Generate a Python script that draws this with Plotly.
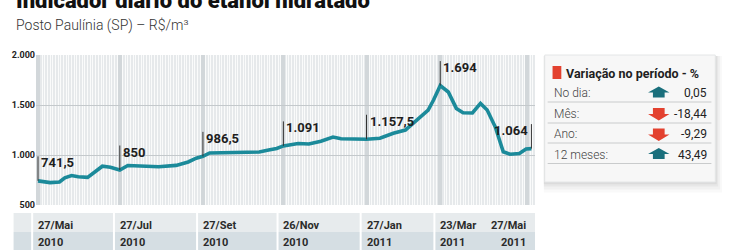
import plotly.graph_objects as go
import pandas as pd

# ---------------- data ----------------
dates = [
    "2010-05-27", "2010-05-31", "2010-06-05", "2010-06-12", "2010-06-16", "2010-06-21",
    "2010-06-26", "2010-07-03", "2010-07-08", "2010-07-14", "2010-07-20", "2010-07-27",
    "2010-08-02", "2010-08-13", "2010-08-25", "2010-09-07", "2010-09-16", "2010-09-22",
    "2010-09-27", "2010-10-02", "2010-10-13", "2010-10-25", "2010-11-08", "2010-11-15",
    "2010-11-21", "2010-11-26", "2010-12-01", "2010-12-07", "2010-12-15", "2010-12-24",
    "2011-01-02", "2011-01-08", "2011-01-18", "2011-01-27", "2011-02-06", "2011-02-16",
    "2011-02-25", "2011-03-04", "2011-03-09", "2011-03-14", "2011-03-18", "2011-03-21",
    "2011-03-23", "2011-03-29", "2011-04-04", "2011-04-09", "2011-04-16", "2011-04-22",
    "2011-04-27", "2011-05-03", "2011-05-06", "2011-05-09", "2011-05-14", "2011-05-21",
    "2011-05-26", "2011-05-30",
]
prices = [
    741.5, 733, 724, 730, 772, 795,
    782, 776, 822, 888, 878, 850,
    895, 886, 882, 896, 930, 968,
    986.5, 1020, 1025, 1028, 1030, 1050,
    1065, 1091, 1098, 1115, 1110, 1138,
    1180, 1163, 1160, 1157.5, 1168, 1218,
    1250, 1332, 1400, 1450, 1550, 1648,
    1694, 1630, 1466, 1422, 1420, 1516,
    1450, 1282, 1150, 1032, 1008, 1015,
    1060, 1064,
]

marker_dates = ["2010-05-27", "2010-07-27", "2010-09-27", "2010-11-26", "2011-01-27", "2011-03-23", "2011-05-30"]
marker_values = [741.5, 850, 986.5, 1091, 1157.5, 1694, 1064]
marker_labels = ["741,5", "850", "986,5", "1.091", "1.157,5", "1.694", "1.064"]

tick_dates = ["2010-05-27", "2010-07-27", "2010-09-27", "2010-11-26", "2011-01-27", "2011-03-23", "2011-05-27"]
tick_daymon = ["27/Mai", "27/Jul", "27/Set", "26/Nov", "27/Jan", "23/Mar", "27/Mai"]
tick_years = ["2010", "2010", "2010", "2010", "2011", "2011", "2011"]

y_ticks = [500, 1000, 1500, 2000]
y_ticktext = ["500", "1.000", "1.500", "2.000"]

panel_title = "Variação no período - %"
panel_labels = ["No dia:", "Mês:", "Ano:", "12 meses:"]
panel_values = [0.05, -18.44, -9.29, 43.49]

title = "Indicador diário do etanol hidratado"
subtitle = "Posto Paulínia (SP) – R$/m³"

# ---------------- layout helpers ----------------
W, H = 750, 250
PL, PR, PT, PB = 23, 535, 55, 205
X_START = pd.Timestamp("2010-05-25 12:00")
X_END = pd.Timestamp("2011-06-01 16:00")


def px(x):
    return (x - PL) / (PR - PL)


def py(y):
    return (PB - y) / (PB - PT)


def date_px(d):
    t = pd.Timestamp(d)
    return PL + (t - X_START) / (X_END - X_START) * (PR - PL)


TEAL = "#1b8a9a"
RED = "#e3412f"
DARK_TEAL = "#1a6f7c"
FONT = "Roboto"

fig = go.Figure()
fig.add_trace(go.Scatter(
    x=dates, y=prices, mode="lines",
    line=dict(color=TEAL, width=3.6),
    hoverinfo="skip", showlegend=False,
))

shapes = []
annotations = []

# marker lines and labels
for d, v, lab in zip(marker_dates, marker_values, marker_labels):
    top = v + 245
    shapes.append(dict(type="line", xref="x", yref="y", x0=d, x1=d, y0=v, y1=top,
                       line=dict(color="#333333", width=1)))
    last = d == marker_dates[-1]
    annotations.append(dict(
        x=d, y=top, xref="x", yref="y", text=lab, showarrow=False,
        xanchor="right" if last else "left", yanchor="top",
        xshift=-1 if last else 1, yshift=3,
        font=dict(family=FONT, size=13, color="#1e1e1e", weight="bold"),
    ))

# title and subtitle
annotations.append(dict(x=px(0), y=py(1), xref="paper", yref="paper", text=title,
                        showarrow=False, xanchor="left", yanchor="middle",
                        font=dict(family=FONT, size=22, color="#111111", weight=900)))
annotations.append(dict(x=px(0), y=py(25.5), xref="paper", yref="paper", text=subtitle,
                        showarrow=False, xanchor="left", yanchor="middle",
                        font=dict(family=FONT, size=14, color="#333333", weight=300)))

# bottom band
shapes.append(dict(type="rect", xref="paper", yref="paper", x0=px(0), x1=px(PR),
                   y0=py(232), y1=py(213), fillcolor="#e7ebed", line=dict(width=0), layer="below"))
shapes.append(dict(type="rect", xref="paper", yref="paper", x0=px(0), x1=px(PR),
                   y0=py(250), y1=py(232), fillcolor="#d5dee3", line=dict(width=0), layer="below"))
for i, (d, dm, yr) in enumerate(zip(tick_dates, tick_daymon, tick_years)):
    tx = date_px(d)
    last = i == len(tick_dates) - 1
    if not last:
        shapes.append(dict(type="line", xref="paper", yref="paper", x0=px(tx - 6), x1=px(tx - 6),
                           y0=py(250), y1=py(213), line=dict(color="white", width=2)))
    for txt, yy in ((dm, 225), (yr, 242)):
        annotations.append(dict(
            x=d, y=py(yy), xref="x", yref="paper", text=txt, showarrow=False,
            xanchor="right" if last else "left", yanchor="middle",
            xshift=1 if last else -2,
            font=dict(family=FONT, size=11, color="#2b2b2b", weight="bold"),
        ))

# right panel: shadow + box
BX0, BX1, BY0, BY1 = 545, 720, 55, 182
for k, a in ((7, 0.025), (5, 0.03), (3, 0.04), (1.5, 0.05)):
    shapes.append(dict(type="rect", xref="paper", yref="paper",
                       x0=px(BX0 - 1), x1=px(BX1 + k), y0=py(BY1 + k * 1.5), y1=py(BY0 + 1),
                       fillcolor=f"rgba(0,0,0,{a})", line=dict(width=0)))
shapes.append(dict(type="rect", xref="paper", yref="paper", x0=px(BX0), x1=px(BX1),
                   y0=py(BY1), y1=py(BY0), fillcolor="#f7f7f7",
                   line=dict(color="#e4e6e7", width=1)))
shapes.append(dict(type="rect", xref="paper", yref="paper", x0=px(553), x1=px(562),
                   y0=py(79), y1=py(66), fillcolor=RED, line=dict(width=0)))
annotations.append(dict(x=px(565), y=py(73), xref="paper", yref="paper", text=panel_title,
                        showarrow=False, xanchor="left", yanchor="middle",
                        font=dict(family=FONT, size=12.5, color="#1e1e1e", weight="bold")))

row_y = [93, 113.5, 134, 154.5]
sep_y = [102, 123, 143, 163.5]
for lab, val, cy, sy in zip(panel_labels, panel_values, row_y, sep_y):
    annotations.append(dict(x=px(552), y=py(cy), xref="paper", yref="paper", text=lab,
                            showarrow=False, xanchor="left", yanchor="middle",
                            font=dict(family=FONT, size=12, color="#444444", weight=300)))
    annotations.append(dict(x=px(714), y=py(cy), xref="paper", yref="paper",
                            text=f"{val:.2f}".replace(".", ","),
                            showarrow=False, xanchor="right", yanchor="middle",
                            font=dict(family=FONT, size=12, color="#222222")))
    shapes.append(dict(type="line", xref="paper", yref="paper", x0=px(548), x1=px(716),
                       y0=py(sy), y1=py(sy), line=dict(color="#c9cbcc", width=1)))
    cx = 662
    if val >= 0:
        pts = [(cx, cy - 6.5), (cx + 11, cy - 0.5), (cx + 6, cy - 0.5), (cx + 6, cy + 4.5),
               (cx - 6, cy + 4.5), (cx - 6, cy - 0.5), (cx - 11, cy - 0.5)]
        col = DARK_TEAL
    else:
        pts = [(cx - 6, cy - 5.5), (cx + 6, cy - 5.5), (cx + 6, cy + 0.5), (cx + 11, cy + 0.5),
               (cx, cy + 7), (cx - 11, cy + 0.5), (cx - 6, cy + 0.5)]
        col = RED
    path = "M " + " L ".join(f"{px(a):.5f},{py(b):.5f}" for a, b in pts) + " Z"
    shapes.append(dict(type="path", xref="paper", yref="paper", path=path,
                       fillcolor=col, line=dict(width=0)))

fig.update_layout(
    width=W, height=H,
    margin=dict(l=PL, r=W - PR, t=PT, b=H - PB, pad=0),
    paper_bgcolor="white",
    plot_bgcolor="#e6e9eb",
    showlegend=False,
    shapes=shapes,
    annotations=annotations,
    xaxis=dict(
        type="date",
        range=[X_START, X_END],
        tickvals=tick_dates,
        showticklabels=False,
        ticks="",
        showgrid=True, gridcolor="#d2d7da", gridwidth=4,
        zeroline=False, showline=False,
        minor=dict(dtick=2 * 86400000, tick0="2010-05-26", showgrid=True,
                   gridcolor="#fafbfb", gridwidth=1, ticks=""),
    ),
    yaxis=dict(
        range=[500, 2000],
        tickvals=y_ticks, ticktext=y_ticktext,
        tickfont=dict(family=FONT, size=9, color="#222222", weight="bold"),
        showgrid=True, gridcolor="#c4c9cc", gridwidth=1,
        zeroline=False, showline=False, ticks="",
    ),
)

fig.write_html("out.html")
